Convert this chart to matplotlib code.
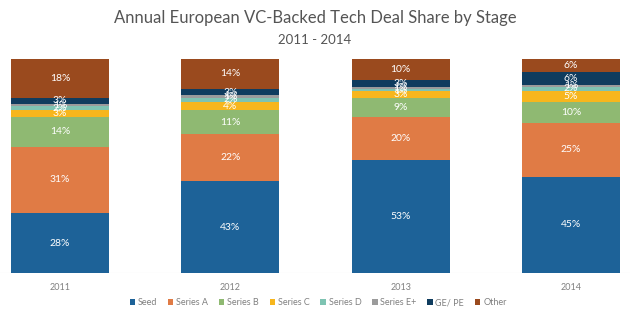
import matplotlib; matplotlib.use("Agg")
import matplotlib.pyplot as plt
import numpy as np

years = ["2011", "2012", "2013", "2014"]
stages = ["Seed", "Series A", "Series B", "Series C", "Series D", "Series E+", "GE/ PE", "Other"]
seed = [28, 43, 53, 45]
series_a = [31, 22, 20, 25]
series_b = [14, 11, 9, 10]
series_c = [3, 4, 3, 5]
series_d = [2, 2, 1, 2]
series_e = [1, 1, 1, 1]
ge_pe = [3, 3, 3, 6]
other = [18, 14, 10, 6]
colors = ["#1d6298", "#e07b45", "#8fb972", "#f7b61d", "#7ec3b2", "#9b9b9b", "#0f3c5e", "#9a4a1e"]

plt.rcParams["font.family"] = ["Lato", "DejaVu Sans"]
series = [seed, series_a, series_b, series_c, series_d, series_e, ge_pe, other]

fig = plt.figure(figsize=(6.3, 3.24), dpi=100)
ax = fig.add_axes([0, 0.157, 1, 0.661])
x = np.arange(len(years))
bottom = np.zeros(len(years))
for name, vals, c in zip(stages, series, colors):
    vals = np.array(vals, dtype=float)
    ax.bar(x, vals, 0.575, bottom=bottom, color=c, label=name, linewidth=0)
    for xi, b, v in zip(x, bottom, vals):
        ax.text(xi, b + v / 2, f"{int(v)}%", ha="center", va="center", color="white", fontsize=7.5)
    bottom += vals

ax.set_xlim(-0.352, 3.346)
ax.set_ylim(0, 100)
ax.axhline(0, color="#e6e6e6", lw=0.8, zorder=0)
for s in ax.spines.values():
    s.set_visible(False)
ax.set_yticks([])
ax.set_xticks(x)
ax.set_xticklabels(years, fontsize=6.5, color="#808080")
ax.tick_params(axis="x", length=0, pad=7)

fig.text(0.5, 0.945, "Annual European VC-Backed Tech Deal Share by Stage", ha="center", va="center",
         fontsize=12, color="#555555")
fig.text(0.5, 0.875, "2011 - 2014", ha="center", va="center", fontsize=9.5, color="#555555")

leg = fig.legend(loc="center", bbox_to_anchor=(0.505, 0.065), ncol=8, frameon=False, fontsize=6.5,
                 handlelength=0.6, handleheight=0.6, handletextpad=0.3, columnspacing=1.2)
for t in leg.get_texts():
    t.set_color("#808080")

fig.savefig("out.png", dpi=100)
